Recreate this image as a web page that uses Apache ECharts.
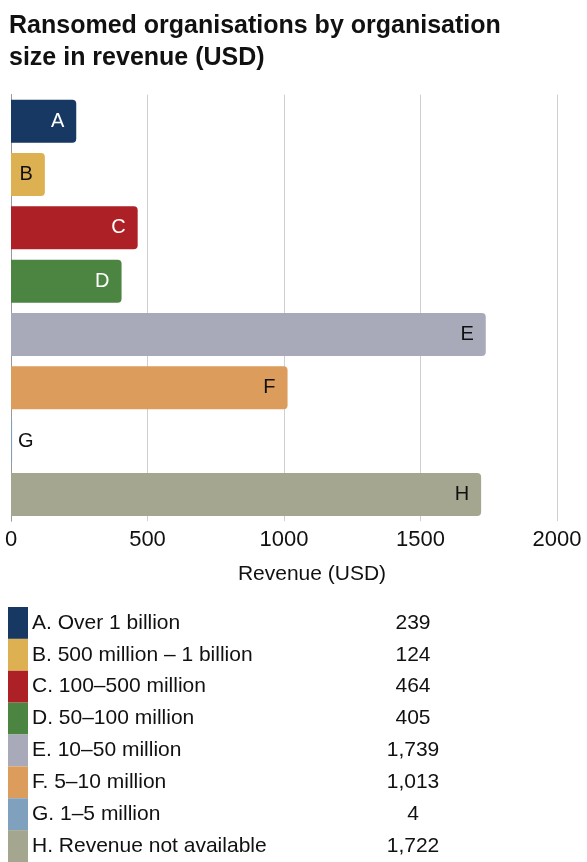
<!DOCTYPE html>
<html><head><meta charset="utf-8">
<script src="https://cdn.jsdelivr.net/npm/echarts@6/dist/echarts.min.js"></script>
<style>html,body{margin:0;padding:0;background:#fff}#c{width:587px;height:862px}</style>
</head><body><div id="c"></div>
<script>
const titleText = 'Ransomed organisations by organisation\nsize in revenue (USD)';
const letters = ['A','B','C','D','E','F','G','H'];
const names = ['A. Over 1 billion','B. 500 million \u2013 1 billion','C. 100\u2013500 million','D. 50\u2013100 million','E. 10\u201350 million','F. 5\u201310 million','G. 1\u20135 million','H. Revenue not available'];
const values = [239, 124, 464, 405, 1739, 1013, 4, 1722];
const valueLabels = ['239','124','464','405','1,739','1,013','4','1,722'];
const colors = ['#173862','#ddb052','#ad2026','#4c8541','#a9aab9','#dc9c5b','#7fa1bd','#a4a68f'];
const labelColors = ['#fff','#111','#fff','#fff','#111','#111','#111','#111'];
const xTicks = [0, 500, 1000, 1500, 2000];

const FONT = 'Liberation Sans, Arial, sans-serif';
const chart = echarts.init(document.getElementById('c'), null, {renderer:'canvas'});

const barData = values.map((v,i)=>({
  value: v,
  itemStyle: {color: colors[i], borderRadius: [0,4,4,0]},
  label: {
    show: true,
    formatter: letters[i],
    position: v < 50 ? 'right' : 'insideRight',
    distance: v < 50 ? 6 : 12,
    color: labelColors[i],
    fontSize: 20,
    fontFamily: FONT
  }
}));

const legendData = names.map((n,i)=>({
  value: 1,
  itemStyle: {color: colors[i]},
  label: {
    show: true,
    position: 'right',
    distance: 4,
    formatter: '{n|' + n + '}{v|' + valueLabels[i] + '}',
    rich: {
      n: {width: 346, fontSize: 21, color: '#111', fontFamily: FONT, align: 'left'},
      v: {width: 70, fontSize: 21, color: '#111', fontFamily: FONT, align: 'center'}
    }
  }
}));

chart.setOption({
  animation: false,
  backgroundColor: '#fff',
  title: {
    text: titleText,
    left: 4, top: 5,
    textStyle: {fontSize: 25, fontWeight: 'bold', color: '#111', fontFamily: FONT, lineHeight: 32}
  },
  grid: [
    {left: 11, right: 30, top: 94.5, height: 426.7},
    {left: 8, width: 20, top: 607, height: 255}
  ],
  xAxis: [
    {
      gridIndex: 0, type: 'value', min: xTicks[0], max: xTicks[xTicks.length-1], interval: 500,
      axisLine: {show: false}, axisTick: {show: false},
      axisLabel: {fontSize: 22, color: '#111', fontFamily: FONT, margin: 8, formatter: v => String(v)},
      splitLine: {show: true, lineStyle: {color: '#cfcfcf', width: 1}},
      name: 'Revenue (USD)', nameLocation: 'middle', nameGap: 43,
      nameTextStyle: {fontSize: 21, color: '#111', fontFamily: FONT, padding: [0, 0, 0, 56]}
    },
    {gridIndex: 1, type: 'value', min: 0, max: 1, show: false}
  ],
  yAxis: [
    {
      gridIndex: 0, type: 'category', data: letters, inverse: true,
      axisLine: {show: true, lineStyle: {color: '#999', width: 1}},
      axisTick: {show: false}, axisLabel: {show: false}
    },
    {gridIndex: 1, type: 'category', data: names, inverse: true, show: false}
  ],
  series: [
    {type: 'bar', xAxisIndex: 0, yAxisIndex: 0, data: barData, barWidth: 43},
    {type: 'bar', xAxisIndex: 1, yAxisIndex: 1, data: legendData, barCategoryGap: 0, barWidth: '100%'}
  ]
});
</script></body></html>
